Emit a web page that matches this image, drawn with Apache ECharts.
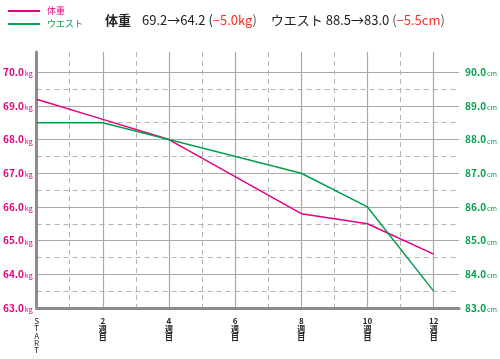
<!DOCTYPE html>
<html><head><meta charset="utf-8">
<script src="https://cdn.jsdelivr.net/npm/echarts@6/dist/echarts.min.js"></script>
<style>html,body{margin:0;padding:0;background:#fff}#c{width:500px;height:359px}</style>
</head><body><div id="c"></div>
<script>
const weeks = [0, 2, 4, 8, 10, 12];
const weight = [69.2, 68.6, 68.0, 65.8, 65.5, 64.6];
const waist = [88.5, 88.5, 88.0, 87.0, 86.0, 83.5];
const seriesNames = ['体重', 'ウエスト'];
const PINK = '#e4007f', GREEN = '#00a04a';
const FONT = '"Noto Sans CJK JP", "Noto Sans", sans-serif';
const isInt = v => Math.abs(v - Math.round(v)) < 1e-6;

const chart = echarts.init(document.getElementById('c'));
// dashed half-lines: hide the one at 70.5 (index 15)
const dashColors = [];
for (let i = 0; i < 17; i++) dashColors.push(i === 15 ? 'rgba(0,0,0,0)' : '#b4b4b4');

chart.setOption({
  animation: false,
  textStyle: { fontFamily: FONT },
  title: {
    left: 100, top: 9,
    text: '{b|体重}{sp|}{n|69.2→64.2 (}{r|−5.0kg}{g|)}{sp2|}{n|ウエスト 88.5→83.0 }{g|(}{r|−5.5cm}{g|)}',
    textStyle: {
      fontWeight: 'normal', fontSize: 13,
      rich: {
        b: { fontSize: 13, fontWeight: 'bold', color: '#222', fontFamily: FONT },
        n: { fontSize: 13, fontWeight: 'normal', color: '#222', fontFamily: FONT },
        r: { fontSize: 13, fontWeight: 'normal', color: '#ff2b2b', fontFamily: FONT },
        g: { fontSize: 13, fontWeight: 'normal', color: '#555', fontFamily: FONT },
        sp: { width: 11 },
        sp2: { width: 14 }
      }
    }
  },
  legend: {
    orient: 'vertical', left: 3, top: 1, itemWidth: 32, itemHeight: 2, itemGap: 3,
    icon: 'rect',
    data: [
      { name: seriesNames[0], textStyle: { color: PINK } },
      { name: seriesNames[1], textStyle: { color: GREEN } }
    ],
    textStyle: { fontSize: 9, lineHeight: 10, padding: [0, 0, 0, 2], fontFamily: FONT }
  },
  grid: { left: 34, right: 36, top: 52, bottom: 51 },
  xAxis: [
    {
      type: 'value', min: 0, max: 12.77, interval: 1, position: 'bottom',
      axisLine: { show: true, lineStyle: { color: '#8c8c8c', width: 3 } },
      axisTick: { show: false },
      axisLabel: {
        show: true, margin: 9, color: '#222', fontSize: 8, fontWeight: 'bold', lineHeight: 8, fontFamily: FONT,
        verticalAlign: 'top', showMaxLabel: false,
        formatter: v => {
          if (!isInt(v)) return '';
          const r = Math.round(v);
          if (r === 0) return '{s|S}\n{s|T}\n{s|A}\n{s|R}\n{s|T}';
          if (r % 2 === 0) return '{w|' + r + '}\n{w|週}\n{w|目}';
          return '';
        },
        rich: {
          s: { fontSize: 8, lineHeight: 7.4, fontWeight: 'normal', color: '#222', fontFamily: FONT },
          w: { fontSize: 8, lineHeight: 8, fontWeight: 'bold', color: '#222', fontFamily: FONT }
        }
      },
      splitLine: { show: true, showMaxLine: false, lineStyle: { color: '#b4b4b4', type: [5, 4], width: 1 } }
    },
    {
      type: 'value', min: 0, max: 12.77, interval: 2, position: 'top',
      axisLine: { show: false }, axisTick: { show: false }, axisLabel: { show: false },
      splitLine: { show: true, showMaxLine: false, lineStyle: { color: '#a8a8a8', width: 1.2 } }
    }
  ],
  yAxis: [
    {
      type: 'value', min: 63, max: 70.6, interval: 0.5, position: 'left',
      axisLine: { show: true, lineStyle: { color: '#8c8c8c', width: 3 } },
      axisTick: { show: false },
      axisLabel: {
        margin: 4, showMaxLabel: false,
        formatter: v => isInt(v) ? '{a|' + v.toFixed(1) + '}{s| }{b|kg}' : '',
        rich: {
          a: { fontSize: 10, fontWeight: 'bold', color: PINK, fontFamily: FONT },
          s: { fontSize: 4 },
          b: { fontSize: 7, color: PINK, fontFamily: FONT, padding: [3, 0, 0, 0] }
        }
      },
      splitLine: { show: true, showMaxLine: false, lineStyle: { color: dashColors, type: [5, 4], width: 1 } }
    },
    {
      type: 'value', min: 83, max: 90.6, interval: 1, position: 'right',
      axisLine: { show: false }, axisTick: { show: false },
      axisLabel: {
        margin: 6, showMaxLabel: false,
        formatter: v => isInt(v) ? '{a|' + v.toFixed(1) + '}{s| }{b|cm}' : '',
        rich: {
          a: { fontSize: 10, fontWeight: 'bold', color: GREEN, fontFamily: FONT },
          s: { fontSize: 4 },
          b: { fontSize: 7, color: GREEN, fontFamily: FONT, padding: [3, 0, 0, 0] }
        }
      },
      splitLine: { show: true, showMaxLine: false, lineStyle: { color: '#a8a8a8', width: 1.2 } }
    }
  ],
  series: [
    {
      name: seriesNames[0], type: 'line', xAxisIndex: 0, yAxisIndex: 0,
      data: weeks.map((w, i) => [w, weight[i]]),
      showSymbol: false, symbol: 'none', color: PINK,
      lineStyle: { color: PINK, width: 1.5 }, z: 3
    },
    {
      name: seriesNames[1], type: 'line', xAxisIndex: 0, yAxisIndex: 1,
      data: weeks.map((w, i) => [w, waist[i]]),
      showSymbol: false, symbol: 'none', color: GREEN,
      lineStyle: { color: GREEN, width: 1.5 }, z: 3
    }
  ]
});
</script></body></html>
